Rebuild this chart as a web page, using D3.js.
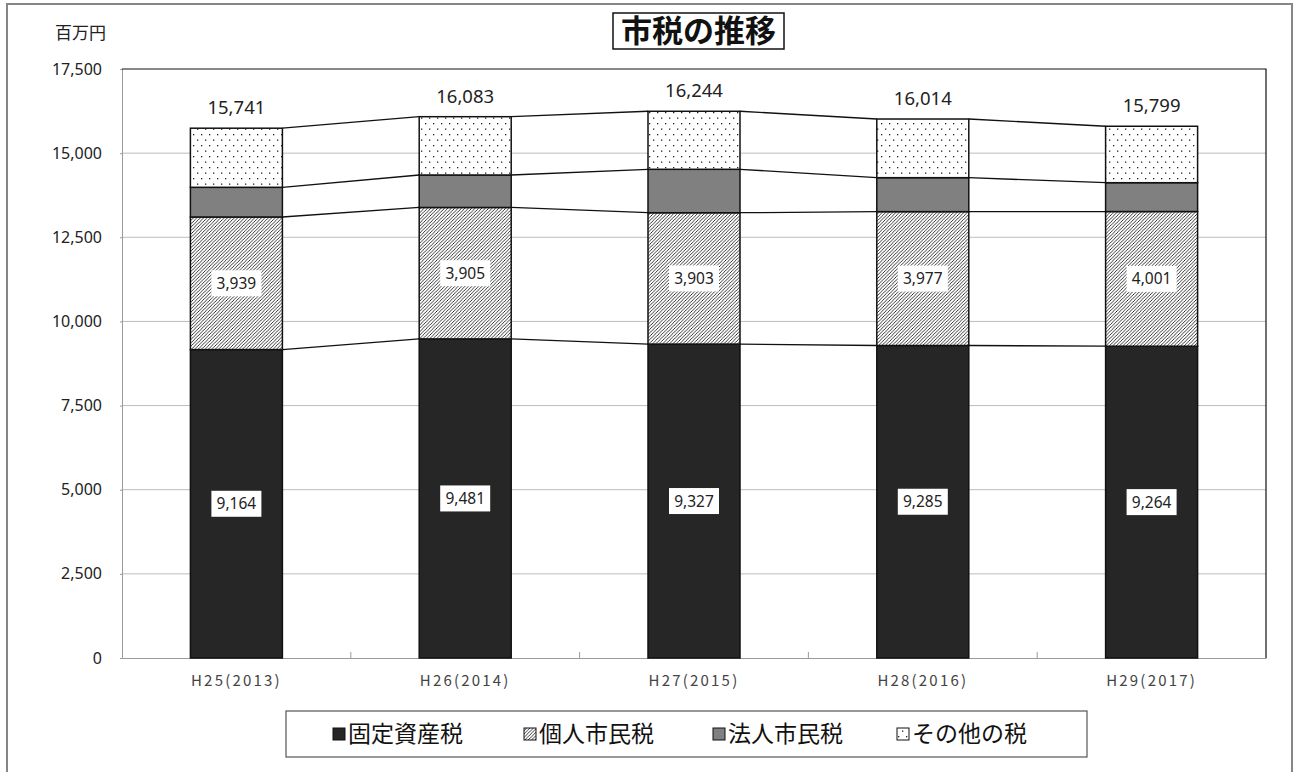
<!DOCTYPE html>
<html lang="ja">
<head>
<meta charset="utf-8">
<script src="https://cdn.jsdelivr.net/npm/d3@7/dist/d3.min.js"></script>
<style>
  html, body { margin: 0; padding: 0; background: #fff; }
  svg { display: block; }
  text { font-family: "Noto Sans CJK JP", "Noto Sans", sans-serif; }
</style>
</head>
<body>
<svg id="chart" width="1295" height="772"></svg>
<script>
// 年度
const years = ["H25(2013)", "H26(2014)", "H27(2015)", "H28(2016)", "H29(2017)"];
// 税目 (積み上げ順: 下から)
const seriesNames = ["固定資産税", "個人市民税", "法人市民税", "その他の税"];
// 各税目の額 (百万円)
const fixedAsset = [9164, 9481, 9327, 9285, 9264];
const individual = [3939, 3905, 3903, 3977, 4001];
const corporate  = [882, 965, 1290, 1009, 857];
const otherTax   = [1756, 1732, 1724, 1743, 1677];
// 合計 (百万円)
const totals = [15741, 16083, 16244, 16014, 15799];
// 目盛
const yTicks = [0, 2500, 5000, 7500, 10000, 12500, 15000, 17500];

const svg = d3.select("#chart");
const plot = { left: 122, right: 1266, top: 69, bottom: 658 };

// パターン定義
const defs = svg.append("defs");
const hatch = defs.append("pattern")
  .attr("id", "hatch").attr("patternUnits", "userSpaceOnUse")
  .attr("width", 3.4).attr("height", 3.4);
hatch.append("rect").attr("width", 3.4).attr("height", 3.4).attr("fill", "#fff");
hatch.append("path")
  .attr("d", "M-1,1 l2,-2 M0,3.4 l3.4,-3.4 M2.4,4.4 l2,-2")
  .attr("stroke", "#111").attr("stroke-width", 0.85);

const dots = defs.append("pattern")
  .attr("id", "dots").attr("patternUnits", "userSpaceOnUse")
  .attr("width", 8).attr("height", 11);
dots.append("rect").attr("width", 8).attr("height", 11).attr("fill", "#fff");
dots.append("rect").attr("x", 1).attr("y", 2).attr("width", 1.3).attr("height", 1.3).attr("fill", "#222");
dots.append("rect").attr("x", 5).attr("y", 7.5).attr("width", 1.3).attr("height", 1.3).attr("fill", "#222");

const fills = ["#262626", "url(#hatch)", "#808080", "url(#dots)"];

// 外枠
svg.append("rect")
  .attr("x", 7).attr("y", 4).attr("width", 1285).attr("height", 800)
  .attr("fill", "none").attr("stroke", "#868686").attr("stroke-width", 2);

// スケール
const x = d3.scaleBand().domain(years).range([plot.left, plot.right]).paddingInner(0).paddingOuter(0);
const bw = 92;
const y = d3.scaleLinear().domain([0, 17500]).range([plot.bottom, plot.top]);

// グリッド線
svg.append("g").selectAll("line").data(yTicks.filter(t => t > 0 && t < 17500)).join("line")
  .attr("x1", plot.left).attr("x2", plot.right)
  .attr("y1", d => y(d)).attr("y2", d => y(d))
  .attr("stroke", "#bdbdbd").attr("stroke-width", 1);

// Y軸
const yAxis = svg.append("g")
  .attr("transform", `translate(${plot.left},0)`)
  .call(d3.axisLeft(y).tickValues(yTicks).tickSize(2).tickPadding(18)
    .tickFormat(d3.format(",")));
yAxis.select(".domain").attr("stroke", "#9a9a9a");
yAxis.selectAll(".tick line").attr("stroke", "#9a9a9a");
yAxis.selectAll(".tick text")
  .attr("font-size", 16).attr("fill", "#222")
  .style("font-family", "'Noto Sans', sans-serif");

// X軸
const xAxis = svg.append("g")
  .attr("transform", `translate(0,${plot.bottom})`)
  .call(d3.axisBottom(x).tickSize(0).tickPadding(17));
xAxis.select(".domain").attr("stroke", "#9a9a9a");
xAxis.selectAll(".tick text")
  .attr("font-size", 15).attr("fill", "#444")
  .attr("letter-spacing", "2.2px");
// 区切り目盛 (内向き)
svg.append("g").selectAll("line").data(years.slice(1)).join("line")
  .attr("x1", d => x(d)).attr("x2", d => x(d))
  .attr("y1", plot.bottom).attr("y2", plot.bottom - 6)
  .attr("stroke", "#9a9a9a");

// プロット領域の上・右の枠
svg.append("path")
  .attr("d", `M${plot.left},${plot.top}H${plot.right}V${plot.bottom}`)
  .attr("fill", "none").attr("stroke", "#111").attr("stroke-width", 1.2);

// 積み上げデータ
const table = years.map((yr, i) => ({
  year: yr,
  [seriesNames[0]]: fixedAsset[i],
  [seriesNames[1]]: individual[i],
  [seriesNames[2]]: corporate[i],
  [seriesNames[3]]: otherTax[i]
}));
const stacked = d3.stack().keys(seriesNames)(table);
const barX = d => x(d.data.year) + (x.bandwidth() - bw) / 2;

// 区分線 (系列線)
stacked.forEach(layer => {
  const pts = layer.map(d => d[1]);
  for (let i = 0; i < pts.length - 1; i++) {
    svg.append("line")
      .attr("x1", barX(layer[i]) + bw).attr("y1", y(pts[i]))
      .attr("x2", barX(layer[i + 1])).attr("y2", y(pts[i + 1]))
      .attr("stroke", "#111").attr("stroke-width", 1.3);
  }
});

// 棒
svg.append("g").selectAll("g").data(stacked).join("g")
  .attr("fill", (d, i) => fills[i])
  .selectAll("rect").data(d => d).join("rect")
  .attr("x", barX)
  .attr("y", d => y(d[1]))
  .attr("width", bw)
  .attr("height", d => y(d[0]) - y(d[1]))
  .attr("stroke", "#111").attr("stroke-width", 1.5);

// 固定資産税・個人市民税のラベル (白地の枠)
[0, 1].forEach(k => {
  const g = svg.append("g");
  stacked[k].forEach(d => {
    const cx = barX(d) + bw / 2;
    const cy = y((d[0] + d[1]) / 2);
    const val = d[1] - d[0];
    const w = 50, h = 26;
    g.append("rect")
      .attr("x", cx - w / 2).attr("y", cy - h / 2)
      .attr("width", w).attr("height", h).attr("fill", "#fff");
    g.append("text")
      .attr("x", cx).attr("y", cy).attr("dy", "0.36em")
      .attr("text-anchor", "middle").attr("font-size", 15.5).attr("fill", "#222")
      .style("font-family", "'Noto Sans', sans-serif")
      .text(d3.format(",")(val));
  });
});

// 合計ラベル
svg.append("g").selectAll("text").data(years).join("text")
  .attr("x", d => x(d) + x.bandwidth() / 2)
  .attr("y", (d, i) => y(totals[i]) - 14)
  .attr("text-anchor", "middle").attr("font-size", 18.5).attr("fill", "#222")
  .style("font-family", "'Noto Sans', sans-serif")
  .text((d, i) => d3.format(",")(totals[i]));

// 単位
svg.append("text")
  .attr("x", 55).attr("y", 39).attr("font-size", 17).attr("fill", "#222")
  .text("百万円");

// タイトル
svg.append("rect")
  .attr("x", 613).attr("y", 13).attr("width", 171).attr("height", 36)
  .attr("fill", "#fff").attr("stroke", "#111").attr("stroke-width", 1.5);
svg.append("text")
  .attr("x", 698.5).attr("y", 31).attr("dy", "0.36em")
  .attr("text-anchor", "middle").attr("font-size", 31).attr("font-weight", "bold")
  .attr("fill", "#111").text("市税の推移");

// 凡例
svg.append("rect")
  .attr("x", 286).attr("y", 711).attr("width", 801).attr("height", 46)
  .attr("fill", "#fff").attr("stroke", "#555").attr("stroke-width", 1.2);
const legendX = [333, 524, 713, 897];
const lg = svg.append("g").selectAll("g").data(seriesNames).join("g")
  .attr("transform", (d, i) => `translate(${legendX[i]},734)`);
lg.append("rect")
  .attr("x", 0).attr("y", -6).attr("width", 12).attr("height", 12)
  .attr("fill", (d, i) => fills[i]).attr("stroke", "#111").attr("stroke-width", 1);
lg.append("text")
  .attr("x", 15).attr("y", 0).attr("dy", "0.36em")
  .attr("font-size", 23).attr("fill", "#111")
  .text(d => d);
</script>
</body>
</html>
